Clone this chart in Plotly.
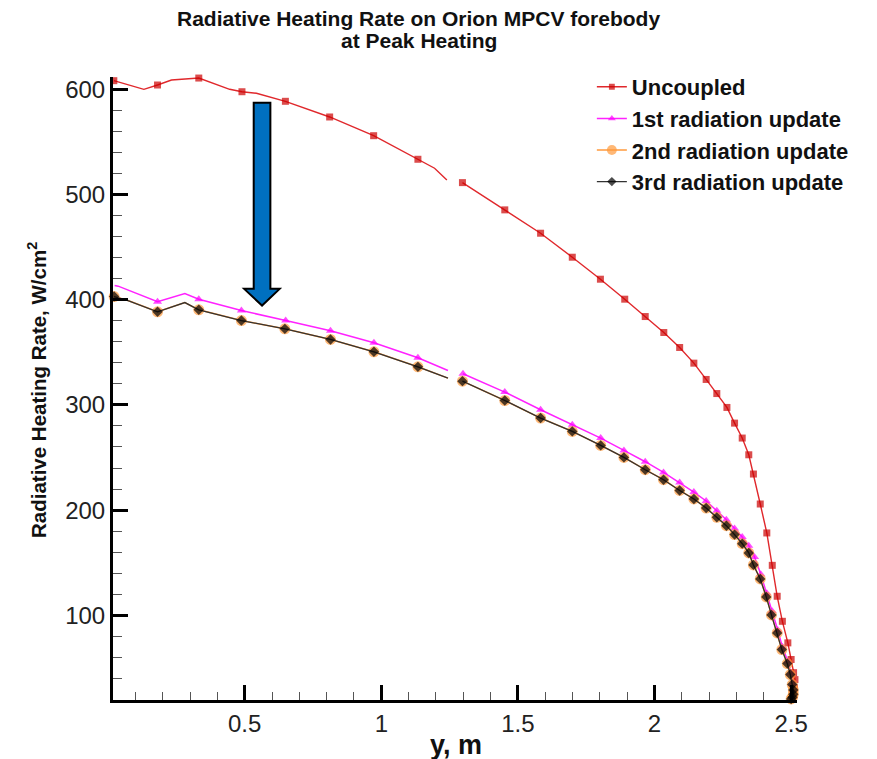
import plotly.graph_objects as go

# ---------------- data ----------------
x_uncoupled = [0.021, 0.131, 0.181, 0.232, 0.332, 0.445, 0.490, 0.543, 0.649, 0.811, 0.972, 1.134, 1.195, 1.240, None,
               1.297, 1.452, 1.583, 1.699, 1.802, 1.891, 1.966, 2.034, 2.092, 2.144, 2.189, 2.228, 2.265, 2.293, 2.321,
               2.345, 2.362, 2.387, 2.411, 2.431, 2.449, 2.468, 2.488, 2.500, 2.509, 2.514, 2.512, 2.510]
y_uncoupled = [608.2, 600.0, 604.1, 608.8, 610.7, 600.0, 597.7, 596.2, 588.6, 573.7, 555.9, 533.5, 525.0, 513.8, None,
               511.3, 485.4, 463.2, 440.4, 419.5, 400.5, 384.0, 368.8, 354.6, 339.7, 324.2, 310.8, 297.6, 282.7, 268.5,
               252.6, 234.3, 205.8, 178.3, 147.5, 118.1, 94.3, 73.8, 58.0, 45.5, 38.9, 31.0, 24.0]
m_uncoupled = [1, 0, 1, 0, 1, 0, 1, 0, 1, 1, 1, 1, 0, 0, 0,
               1, 1, 1, 1, 1, 1, 1, 1, 1, 1, 1, 1, 1, 1, 1,
               1, 1, 1, 1, 1, 1, 1, 1, 1, 1, 1, 1, 1]

x_first = [0.024, 0.037, 0.181, 0.281, 0.332, 0.488, 0.650, 0.814, 0.973, 1.134, 1.244, None,
           1.299, 1.452, 1.583, 1.699, 1.803, 1.888, 1.966, 2.033, 2.092, 2.144, 2.189, 2.228, 2.263, 2.293,
           2.321, 2.345, 2.366, 2.389, 2.411, 2.430, 2.451, 2.468, 2.488, 2.499, 2.505, 2.508, 2.506, 2.502]
y_first = [413.5, 412.9, 398.0, 405.9, 400.5, 389.7, 380.2, 370.4, 359.0, 344.8, 332.7, None,
           329.6, 312.2, 295.4, 281.1, 268.5, 256.7, 246.0, 235.8, 226.3, 217.2, 208.7, 199.4, 190.9, 182.6,
           174.5, 166.2, 155.5, 139.0, 121.0, 104.0, 86.0, 70.0, 56.0, 45.0, 35.0, 29.0, 24.0, 21.0]
m_first = [0, 0, 1, 0, 1, 1, 1, 1, 1, 1, 0, 0,
           1, 1, 1, 1, 1, 1, 1, 1, 1, 1, 1, 1, 1, 1,
           1, 1, 1, 1, 1, 1, 1, 1, 1, 1, 1, 1, 1, 1]

x_second = [0.022, 0.073, 0.181, 0.281, 0.332, 0.488, 0.647, 0.814, 0.973, 1.134, 1.244, None,
            1.297, 1.452, 1.583, 1.699, 1.803, 1.888, 1.966, 2.033, 2.092, 2.144, 2.189, 2.228, 2.263, 2.293,
            2.321, 2.345, 2.362, 2.387, 2.409, 2.428, 2.449, 2.466, 2.486, 2.497, 2.504, 2.508, 2.508, 2.505, 2.500]
y_second = [403.0, 399.2, 388.5, 397.3, 390.4, 380.2, 372.3, 362.2, 350.5, 336.2, 325.5, None,
            322.6, 304.2, 287.5, 274.8, 261.5, 250.1, 238.4, 228.9, 218.7, 210.6, 202.0, 193.1, 185.2, 176.7,
            168.1, 159.3, 147.9, 134.6, 117.5, 100.4, 83.3, 67.4, 54.1, 43.7, 34.2, 29.0, 25.0, 22.0, 20.5]
m_second = [1, 0, 1, 0, 1, 1, 1, 1, 1, 1, 0, 0,
            1, 1, 1, 1, 1, 1, 1, 1, 1, 1, 1, 1, 1, 1,
            1, 1, 1, 1, 1, 1, 1, 1, 1, 1, 1, 1, 1, 1, 1]

x_third = [0.022, 0.073, 0.181, 0.281, 0.332, 0.488, 0.647, 0.814, 0.973, 1.134, 1.244, None,
           1.297, 1.452, 1.583, 1.699, 1.803, 1.888, 1.966, 2.033, 2.092, 2.144, 2.189, 2.228, 2.263, 2.293,
           2.321, 2.345, 2.362, 2.387, 2.409, 2.428, 2.449, 2.466, 2.486, 2.497, 2.504, 2.508, 2.508, 2.505, 2.500]
y_third = [403.0, 399.2, 388.5, 397.3, 390.4, 380.2, 372.3, 362.2, 350.5, 336.2, 325.5, None,
           322.6, 304.2, 287.5, 274.8, 261.5, 250.1, 238.4, 228.9, 218.7, 210.6, 202.0, 193.1, 185.2, 176.7,
           168.1, 159.3, 147.9, 134.6, 117.5, 100.4, 83.3, 67.4, 54.1, 43.7, 34.2, 29.0, 25.0, 22.0, 20.5]
m_third = [1, 0, 1, 0, 1, 1, 1, 1, 1, 1, 0, 0,
           1, 1, 1, 1, 1, 1, 1, 1, 1, 1, 1, 1, 1, 1,
           1, 1, 1, 1, 1, 1, 1, 1, 1, 1, 1, 1, 1, 1, 1]

series_names = ["Uncoupled", "1st radiation update", "2nd radiation update", "3rd radiation update"]
x_tickvals = [0.5, 1, 1.5, 2, 2.5]
x_ticktext = ["0.5", "1", "1.5", "2", "2.5"]
y_tickvals = [100, 200, 300, 400, 500, 600]
y_ticktext = ["100", "200", "300", "400", "500", "600"]
title_lines = ["Radiative Heating Rate on Orion MPCV forebody", "at Peak Heating"]
x_title = "y, m"
y_title = "Radiative Heating Rate, W/cm<sup>2</sup>"

FONT = "Liberation Sans, Arial, Helvetica, sans-serif"

fig = go.Figure()

def add(xs, ys, flags, name, lcolor, mcolor, symbol, msize, lwidth):
    fig.add_trace(go.Scatter(
        x=xs, y=ys, name=name, mode="lines+markers",
        line=dict(color=lcolor, width=lwidth),
        marker=dict(symbol=symbol, color=mcolor, size=[msize if f else 0 for f in flags],
                    line=dict(width=0)),
        cliponaxis=False, connectgaps=False,
    ))

add(x_uncoupled, y_uncoupled, m_uncoupled, series_names[0], "#e0282c", "#cc0000", "square", 7, 1.4)
add(x_first, y_first, m_first, series_names[1], "#ff22ff", "#ff00ff", "triangle-up", 8, 1.5)
add(x_second, y_second, m_second, series_names[2], "#ff9a3c", "#ff9a3c", "circle", 11, 1.5)
add(x_third, y_third, m_third, series_names[3], "#333333", "#000000", "diamond", 8, 1.3)

# blue arrow annotation
fig.add_shape(type="path", xref="x", yref="y",
              path="M 0.533,587.3 L 0.594,587.3 L 0.594,410.3 L 0.628,410.3 L 0.5635,394.4 L 0.498,410.3 L 0.533,410.3 Z",
              fillcolor="#0070c0", line=dict(color="#000000", width=2), layer="above")

# plot area: x from 113 px to 797.2 px, y from 77 px to 700 px
PL, PR, PT, PB = 113.0, 797.2, 77.0, 700.0
def px(xp):
    return (xp - PL) / (PR - PL)
def py(yp):
    return (PB - yp) / (PB - PT)

ann = []
ann.append(dict(text="<b>%s</b>" % title_lines[0], x=px(419), y=py(18.5), xref="paper", yref="paper",
                xanchor="center", yanchor="middle", showarrow=False,
                font=dict(size=21, family=FONT, color="#111111")))
ann.append(dict(text="<b>%s</b>" % title_lines[1], x=px(419), y=py(41), xref="paper", yref="paper",
                xanchor="center", yanchor="middle", showarrow=False,
                font=dict(size=21, family=FONT, color="#111111")))
ann.append(dict(text="<b>%s</b>" % x_title, x=px(456), y=py(745), xref="paper", yref="paper",
                xanchor="center", yanchor="middle", showarrow=False,
                font=dict(size=27, family=FONT, color="#111111")))
ann.append(dict(text="<b>%s</b>" % y_title, x=px(37), y=py(390), xref="paper", yref="paper",
                xanchor="center", yanchor="middle", showarrow=False, textangle=-90,
                font=dict(size=20.5, family=FONT, color="#111111")))

fig.update_layout(
    width=877, height=759,
    margin=dict(l=PL, r=877 - PR, t=PT, b=759 - PB, autoexpand=False),
    paper_bgcolor="white", plot_bgcolor="white",
    font=dict(family=FONT, color="#111111"),
    annotations=ann,
    showlegend=True,
    legend=dict(x=px(592), y=py(66), xanchor="left", yanchor="top",
                bgcolor="rgba(0,0,0,0)", borderwidth=0,
                font=dict(size=22, family=FONT, color="#111111", weight="bold"),
                tracegroupgap=0),
    xaxis=dict(range=[0.018, 2.5215], tickvals=x_tickvals, ticktext=x_ticktext, automargin=False,
               showline=True, linecolor="black", linewidth=3, mirror=False,
               ticks="inside", ticklen=15, tickwidth=3, tickcolor="black",
               showgrid=False, zeroline=False,
               tickfont=dict(size=24, family=FONT, color="#222222"),
               minor=dict(dtick=0.1, tick0=0, ticks="inside", ticklen=8, tickwidth=1, tickcolor="#555555", showgrid=False)),
    yaxis=dict(range=[19.5, 611.7], tickvals=y_tickvals, ticktext=y_ticktext, automargin=False,
               showline=True, linecolor="black", linewidth=3, mirror=False,
               ticks="inside", ticklen=15, tickwidth=3, tickcolor="black",
               showgrid=False, zeroline=False,
               tickfont=dict(size=24, family=FONT, color="#222222"),
               minor=dict(dtick=20, tick0=0, ticks="inside", ticklen=9, tickwidth=1, tickcolor="#555555", showgrid=False)),
)

fig.write_html("out.html")
